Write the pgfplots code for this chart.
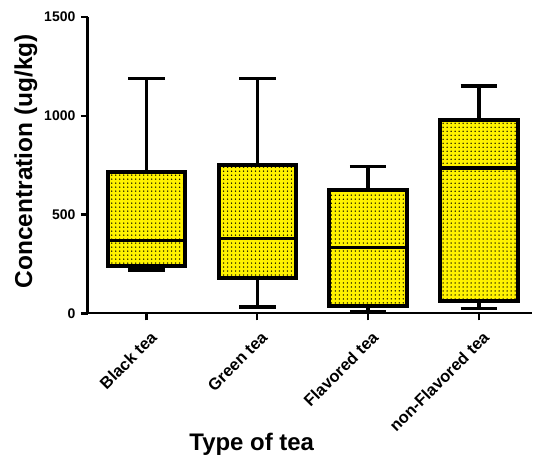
\documentclass[border=0pt]{standalone}
\usepackage{pgfplots}
\pgfplotsset{compat=1.18}
\usetikzlibrary{patterns}
\usepackage{fontspec}
\setmainfont{Liberation Sans}
\pgfdeclarepatternformonly{bigdots}{\pgfqpoint{-1pt}{-1pt}}{\pgfqpoint{1pt}{1pt}}{\pgfqpoint{4pt}{4pt}}{\pgfpathcircle{\pgfqpoint{0pt}{0pt}}{0.75pt}\pgfusepath{fill}}
\begin{document}
\begin{tikzpicture}
\begin{axis}[
  scale only axis,
  width=445pt, height=297pt,
  xmin=-0.53, xmax=3.48,
  ymin=0, ymax=1500,
  axis x line*=bottom, axis y line*=left,
  x axis line style={line width=2pt},
  y axis line style={line width=2.8pt},
  ytick={0,500,1000,1500},
  xtick={0,1,2,3},
  xticklabels={Black tea, Green tea, Flavored tea, non-Flavored tea},
  tick align=outside,
  major tick length=7pt,
  tick style={black, line width=2.2pt},
  /pgf/number format/assume math mode=true,
  /pgf/number format/1000 sep={},
  yticklabel style={font=\fontsize{14}{16}\selectfont\bfseries, xshift=-2pt},
  xticklabel style={font=\fontsize{16.5}{18}\selectfont\bfseries, rotate=45, anchor=north east, inner sep=0pt, yshift=-9pt, xshift=-5pt},
  ylabel={Concentration (ug/kg)},
  ylabel style={font=\fontsize{24.5}{28}\selectfont\bfseries, xshift=4pt},
  xlabel={Type of tea},
  xlabel style={font=\fontsize{24}{28}\selectfont\bfseries, at={(axis description cs:0.369,-0.462)}, anchor=base},
  unbounded coords=jump,
  boxst/.style={draw=black, line width=4pt, fill=yellow, postaction={pattern=bigdots, pattern color=black}},
  wh/.style={black, line width=3.4pt},
  md/.style={black, line width=3.6pt},
]
% Black tea: lw 220, q1 242, med 369, q3 717, uw 1190
\addplot[wh] coordinates {(0,717) (0,1190) (nan,nan) (-0.165,1190) (0.165,1190)};
\addplot[wh] coordinates {(0,242) (0,220) (nan,nan) (-0.165,220) (0.165,220)};
\addplot[boxst] coordinates {(-0.35,242) (0.35,242) (0.35,717) (-0.35,717)} -- cycle;
\addplot[md] coordinates {(-0.35,369) (0.35,369)};
% Green tea: lw 32, q1 180, med 379, q3 752, uw 1190
\addplot[wh] coordinates {(1,752) (1,1190) (nan,nan) (0.835,1190) (1.165,1190)};
\addplot[wh] coordinates {(1,180) (1,32) (nan,nan) (0.835,32) (1.165,32)};
\addplot[boxst] coordinates {(0.65,180) (1.35,180) (1.35,752) (0.65,752)} -- cycle;
\addplot[md] coordinates {(0.65,379) (1.35,379)};
% Flavored tea: lw 10, q1 40, med 333, q3 626, uw 742
\addplot[wh] coordinates {(2,626) (2,742) (nan,nan) (1.835,742) (2.165,742)};
\addplot[wh] coordinates {(2,40) (2,10) (nan,nan) (1.835,10) (2.165,10)};
\addplot[boxst] coordinates {(1.65,40) (2.35,40) (2.35,626) (1.65,626)} -- cycle;
\addplot[md] coordinates {(1.65,333) (2.35,333)};
% non-Flavored tea: lw 25, q1 61, med 737, q3 980, uw 1151
\addplot[wh] coordinates {(3,980) (3,1151) (nan,nan) (2.835,1151) (3.165,1151)};
\addplot[wh] coordinates {(3,61) (3,25) (nan,nan) (2.835,25) (3.165,25)};
\addplot[boxst] coordinates {(2.65,61) (3.35,61) (3.35,980) (2.65,980)} -- cycle;
\addplot[md] coordinates {(2.65,737) (3.35,737)};
\end{axis}
\path ([xshift=-88pt,yshift=17pt]current axis.north west) -- ([yshift=-142pt]current axis.south east);
\end{tikzpicture}
\end{document}
